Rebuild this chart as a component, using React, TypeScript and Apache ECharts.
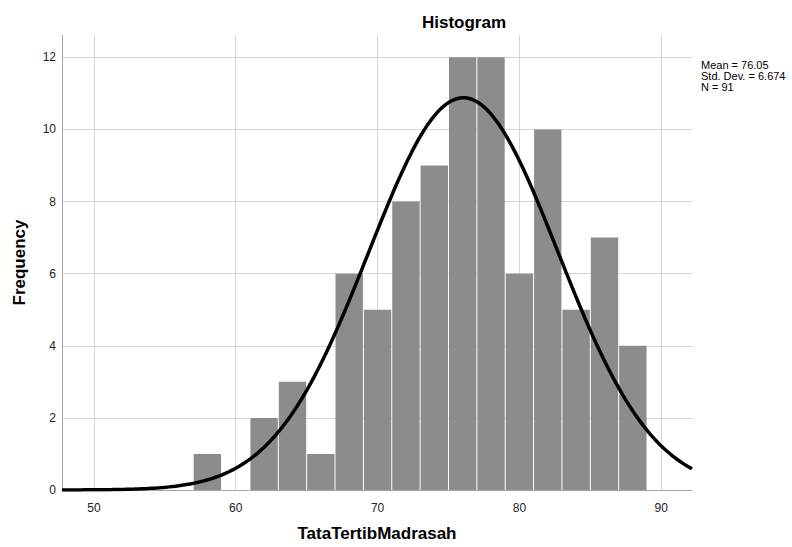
import React, { useEffect, useRef } from "react";
import * as echarts from "echarts";

// Histogram bins (lower edges) and frequencies
const binStarts = [57, 59, 61, 63, 65, 67, 69, 71, 73, 75, 77, 79, 81, 83, 85, 87];
const counts = [1, 0, 2, 3, 1, 6, 5, 8, 9, 12, 12, 6, 10, 5, 7, 4];
const BIN_WIDTH = 2;

// Summary statistics
const MEAN = 76.05;
const STD_DEV = 6.674;
const N = 91;

// Axis ticks
const xTicks = [50, 60, 70, 80, 90];
const yTicks = [0, 2, 4, 6, 8, 10, 12];
const X_MIN = 47.75;
const X_MAX = 92.17;
const Y_MAX = 12.62;

const FONT = "'Liberation Sans', Arial, sans-serif";

export default function App() {
  const ref = useRef<HTMLDivElement>(null);

  useEffect(() => {
    if (!ref.current) return;
    const chart = echarts.init(ref.current, null, { renderer: "svg" });

    const barData = binStarts
      .map((s, i) => [s, s + BIN_WIDTH, counts[i]])
      .filter((d) => d[2] > 0);

    const peak = (N * BIN_WIDTH) / (STD_DEV * Math.sqrt(2 * Math.PI));
    const curve: number[][] = [];
    const steps = 200;
    for (let i = 0; i <= steps; i++) {
      const x = X_MIN + ((X_MAX - X_MIN) * i) / steps;
      const z = (x - MEAN) / STD_DEV;
      curve.push([x, peak * Math.exp(-0.5 * z * z)]);
    }

    chart.setOption({
      animation: false,
      backgroundColor: "#ffffff",
      title: {
        text: "Histogram",
        left: 459,
        top: 9,
        textAlign: "center",
        textStyle: { fontFamily: FONT, fontSize: 17, fontWeight: "bold", color: "#000" },
      },
      graphic: [
        {
          type: "text",
          left: 701,
          top: 59,
          style: {
            text: `Mean = ${MEAN.toFixed(2)}\nStd. Dev. = ${STD_DEV.toFixed(3)}\nN = ${N}`,
            font: `11px ${FONT}`,
            lineHeight: 11,
            fill: "#000",
          },
        },
      ],
      grid: { left: 62, right: 100, top: 35, bottom: 54, containLabel: false },
      xAxis: {
        type: "value",
        min: X_MIN,
        max: X_MAX,
        name: "TataTertibMadrasah",
        nameLocation: "middle",
        nameGap: 35,
        nameTextStyle: { fontFamily: FONT, fontSize: 17, fontWeight: "bold", color: "#000" },
        axisLine: { show: true, lineStyle: { color: "#a8a8a8", width: 1 } },
        axisTick: { show: false, customValues: xTicks },
        axisLabel: {
          customValues: xTicks,
          fontFamily: FONT,
          fontSize: 12,
          color: "#222",
          margin: 12,
        },
        splitLine: { show: true, lineStyle: { color: "#d6d6d6", width: 1 } },
      },
      yAxis: {
        type: "value",
        min: 0,
        max: Y_MAX,
        name: "Frequency",
        nameLocation: "middle",
        nameGap: 34,
        nameTextStyle: { fontFamily: FONT, fontSize: 17, fontWeight: "bold", color: "#000" },
        axisLine: { show: true, lineStyle: { color: "#a8a8a8", width: 1 } },
        axisTick: { show: false, customValues: yTicks },
        axisLabel: {
          customValues: yTicks,
          fontFamily: FONT,
          fontSize: 12,
          color: "#222",
          margin: 6,
        },
        splitLine: { show: true, lineStyle: { color: "#d6d6d6", width: 1 } },
      },
      series: [
        {
          type: "custom",
          data: barData,
          encode: { x: [0, 1], y: 2 },
          renderItem: (params: any, api: any) => {
            const x0 = api.value(0);
            const x1 = api.value(1);
            const y = api.value(2);
            const p0 = api.coord([x0, 0]);
            const p1 = api.coord([x1, y]);
            return {
              type: "rect",
              shape: {
                x: p0[0] + 0.5,
                y: p1[1],
                width: p1[0] - p0[0] - 1,
                height: p0[1] - p1[1],
              },
              style: { fill: "#8c8c8c" },
            };
          },
          z: 2,
        },
        {
          type: "line",
          data: curve,
          showSymbol: false,
          symbol: "none",
          smooth: false,
          lineStyle: { color: "#000", width: 3.5 },
          z: 3,
        },
      ],
    });

    return () => chart.dispose();
  }, []);

  return (
    <div
      ref={ref}
      style={{ position: "fixed", left: 0, top: 0, width: 792, height: 547 }}
    />
  );
}
